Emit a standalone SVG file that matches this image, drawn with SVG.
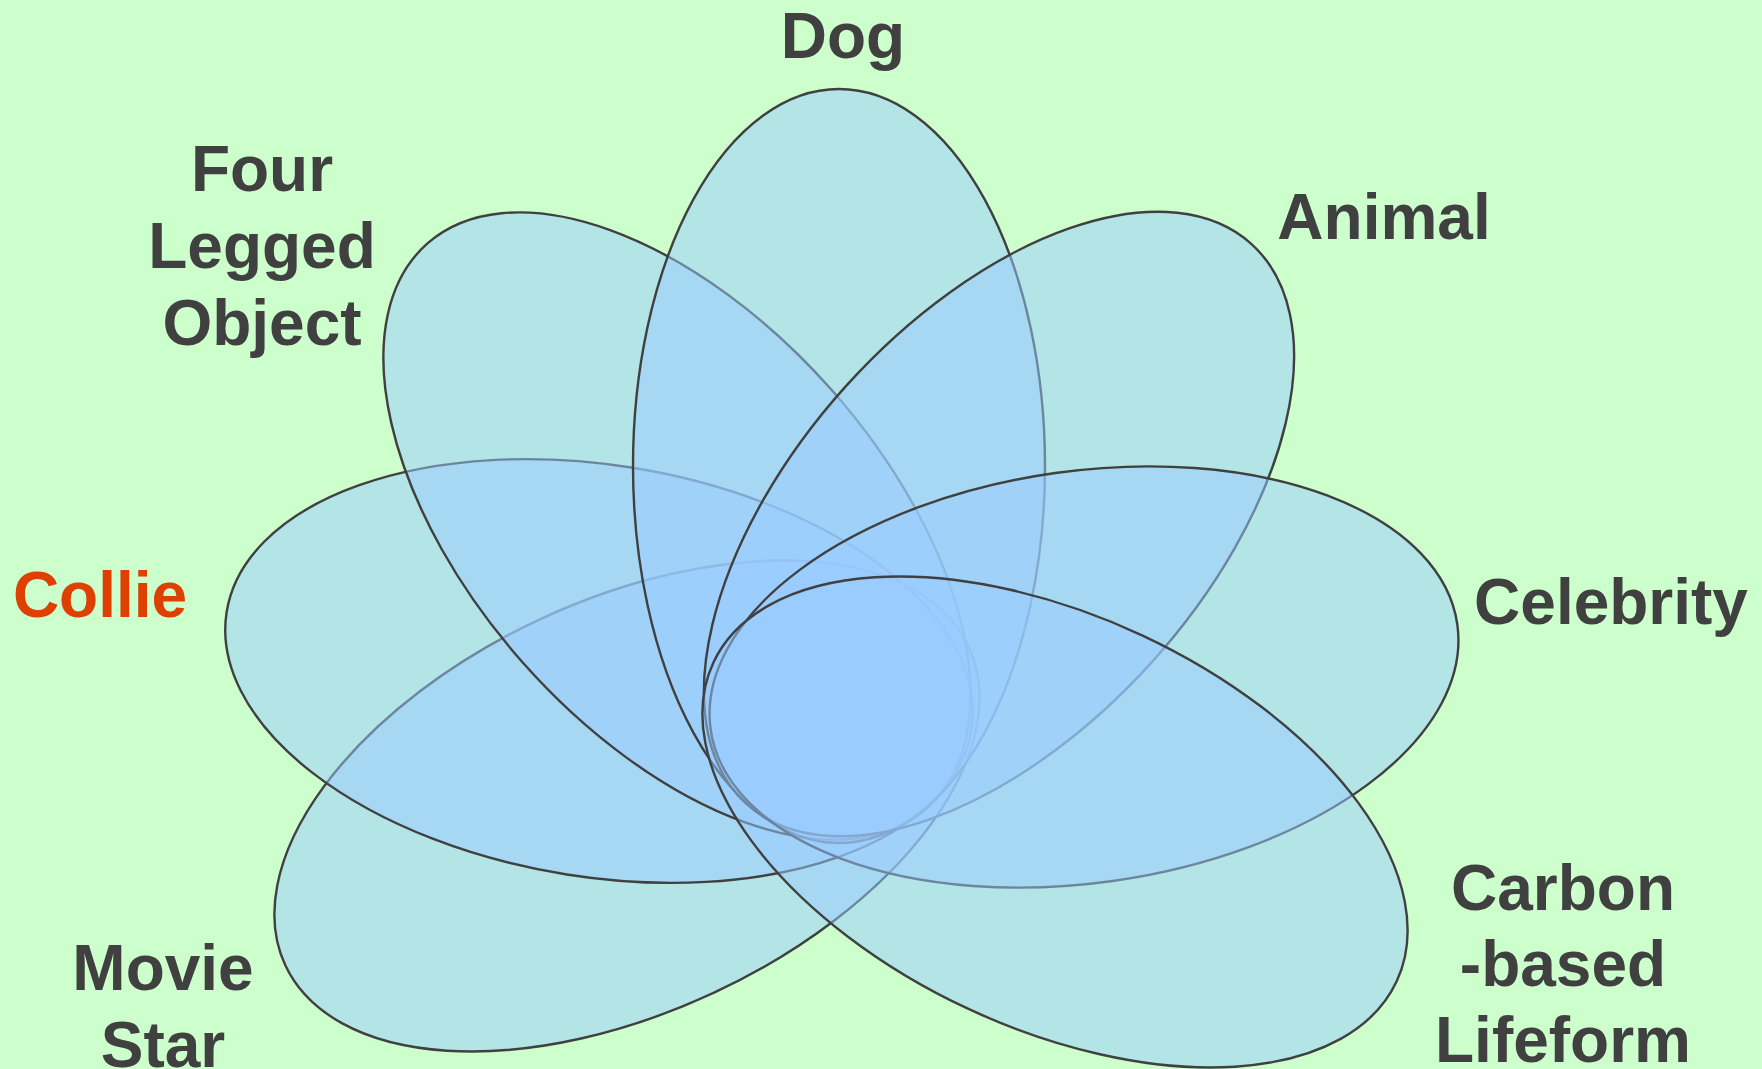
<svg xmlns="http://www.w3.org/2000/svg" width="1762" height="1069" viewBox="0 0 1762 1069">
  <style>
    .set { fill: #99CCFF; fill-opacity: 0.5; stroke: #404040; stroke-width: 2.4; }
    .lbl { font-family: "Liberation Sans", Arial, sans-serif; font-weight: bold; font-size: 64px; fill: #404040; text-anchor: middle; }
    .hl { fill: #DD4000; }
  </style>
  <rect x="0" y="0" width="1762" height="1069" fill="#CCFFCC"/>
  <g id="movie-star">
    <ellipse class="set" cx="627" cy="806" rx="206" ry="377" transform="rotate(-115 627 806)"/>
    <text class="lbl" x="163" y="990">Movie</text>
    <text class="lbl" x="163" y="1067">Star</text>
  </g>
  <g id="collie">
    <ellipse class="set" cx="599" cy="671" rx="206" ry="377" transform="rotate(-81 599 671)"/>
    <text class="lbl hl" x="100" y="617">Collie</text>
  </g>
  <g id="four-legged-object">
    <ellipse class="set" cx="677" cy="526" rx="206" ry="377" transform="rotate(-41.5 677 526)"/>
    <text class="lbl" x="262" y="191">Four</text>
    <text class="lbl" x="262" y="268">Legged</text>
    <text class="lbl" x="262" y="345">Object</text>
  </g>
  <g id="dog">
    <ellipse class="set" cx="839" cy="466" rx="206" ry="377"/>
    <text class="lbl" x="843" y="58">Dog</text>
  </g>
  <g id="animal">
    <ellipse class="set" cx="999" cy="524" rx="206" ry="377" transform="rotate(42 999 524)"/>
    <text class="lbl" x="1384" y="239">Animal</text>
  </g>
  <g id="celebrity">
    <ellipse class="set" cx="1084" cy="677" rx="206" ry="377" transform="rotate(82 1084 677)"/>
    <text class="lbl" x="1611" y="624">Celebrity</text>
  </g>
  <g id="carbon-based-lifeform">
    <ellipse class="set" cx="1055" cy="822" rx="206" ry="377" transform="rotate(115 1055 822)"/>
    <text class="lbl" x="1563" y="910">Carbon</text>
    <text class="lbl" x="1563" y="986">-based</text>
    <text class="lbl" x="1563" y="1062">Lifeform</text>
  </g>
  <g id="connectors"/>
</svg>
